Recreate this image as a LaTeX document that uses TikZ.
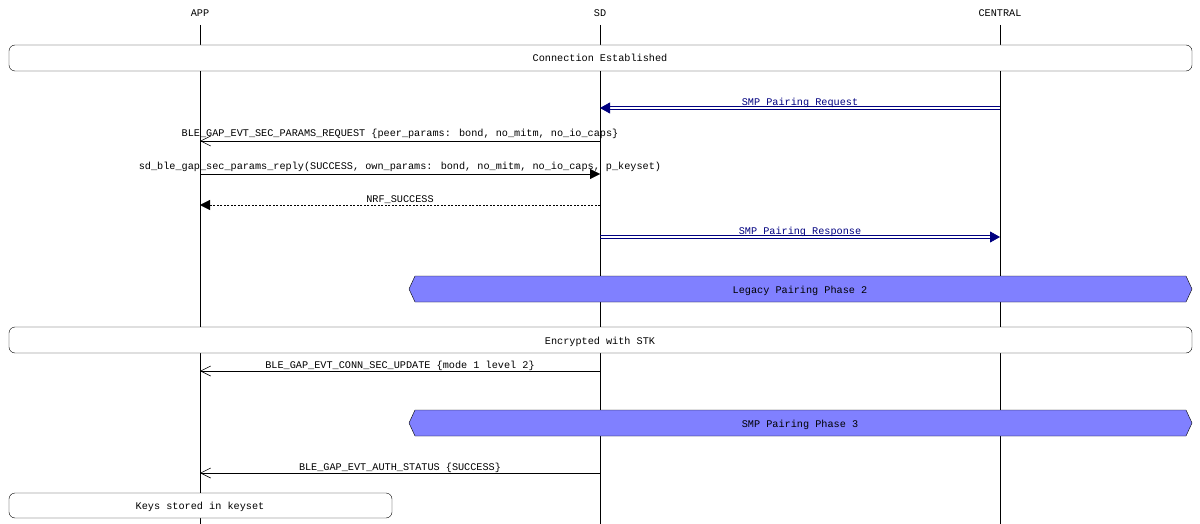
\documentclass[tikz,border=0pt]{standalone}
\usepackage{fontspec}
\setmainfont{Liberation Mono}
\usetikzlibrary{arrows.meta}
\begin{document}
\begin{tikzpicture}[x=1pt,y=-1pt,font=\fontsize{10.2}{12}\selectfont,
  lbl/.style={inner sep=0pt,anchor=base},
  boxr/.style={draw,rounded corners=6pt,fill=white},
  hexa/.style={draw,fill=hexfill},
  msg/.style={-{Triangle[length=10pt,width=10pt]}},
  omsg/.style={-{Straight Barb[length=10pt,width=10pt,line width=0.6pt]}},
  dline/.style={draw=navy,line width=0.8pt},
  dhead/.style={draw=navy,line width=0.8pt,-{Triangle[length=10pt,width=11pt,fill=navy]}}]
\definecolor{navy}{RGB}{0,0,128}
\definecolor{hexfill}{RGB}{128,128,255}
\useasboundingbox (0,0) rectangle (1200,524);
\node[lbl] (happ) at (200,17) {APP};
\node[lbl] (hsd) at (600,17) {SD};
\node[lbl] (hcen) at (1000,17) {CENTRAL};
\coordinate (a0) at (200,25); \coordinate (a1) at (200,524);
\coordinate (s0) at (600,25); \coordinate (s1) at (600,524);
\coordinate (c0) at (1000,25); \coordinate (c1) at (1000,524);
\draw (a0) -- (a1); \draw (s0) -- (s1); \draw (c0) -- (c1);
% boxes
\draw[boxr] (9,45) rectangle (1192,71);
\node[lbl] (t1) at (600,62) {Connection Established};
\draw[hexa] (409,289) -- (415,276) -- (1186,276) -- (1192,289) -- (1186,302) -- (415,302) -- cycle;
\node[lbl] (t2) at (800,293) {Legacy Pairing Phase 2};
\draw[boxr] (9,327) rectangle (1192,353);
\node[lbl] (t3) at (600,344) {Encrypted with STK};
\draw[hexa] (409,423) -- (415,410) -- (1186,410) -- (1192,423) -- (1186,436) -- (415,436) -- cycle;
\node[lbl] (t4) at (800,427) {SMP Pairing Phase 3};
\draw[boxr] (9,493) rectangle (392,518);
\node[lbl] (t5) at (200,509) {Keys stored in keyset};
% messages
\coordinate (m1a) at (1000,108); \coordinate (m1b) at (600,108);
\draw[dline] ([yshift=-1.5pt]m1a) -- ([yshift=-1.5pt,xshift=8pt]m1b);
\draw[dline] ([yshift=1.5pt]m1a) -- ([yshift=1.5pt,xshift=8pt]m1b);
\draw[dhead] ([xshift=9pt]m1b) -- (m1b);
\node[lbl,text=navy] (l1) at (800,106) {SMP Pairing Request};
\coordinate (m2a) at (600,141); \coordinate (m2b) at (200,141);
\draw[omsg] (m2a) -- (m2b);
\node[lbl] (l2) at (400,137) {BLE\_GAP\_EVT\_SEC\_PARAMS\_REQUEST \{peer\_params: bond, no\_mitm, no\_io\_caps\}};
\coordinate (m3a) at (200,174); \coordinate (m3b) at (600,174);
\draw[msg] (m3a) -- (m3b);
\node[lbl] (l3) at (400,170) {sd\_ble\_gap\_sec\_params\_reply(SUCCESS, own\_params: bond, no\_mitm, no\_io\_caps, p\_keyset)};
\coordinate (m4a) at (600,205); \coordinate (m4b) at (200,205);
\draw[msg,dash pattern=on 2pt off 1.5pt] (m4a) -- (m4b);
\node[lbl] (l4) at (400,202) {NRF\_SUCCESS};
\coordinate (m5a) at (600,237); \coordinate (m5b) at (1000,237);
\draw[dline] ([yshift=-1.5pt]m5a) -- ([yshift=-1.5pt,xshift=-8pt]m5b);
\draw[dline] ([yshift=1.5pt]m5a) -- ([yshift=1.5pt,xshift=-8pt]m5b);
\draw[dhead] ([xshift=-9pt]m5b) -- (m5b);
\node[lbl,text=navy] (l5) at (800,234) {SMP Pairing Response};
\coordinate (m6a) at (600,371); \coordinate (m6b) at (200,371);
\draw[omsg] (m6a) -- (m6b);
\node[lbl] (l6) at (400,368) {BLE\_GAP\_EVT\_CONN\_SEC\_UPDATE \{mode 1 level 2\}};
\coordinate (m7a) at (600,473); \coordinate (m7b) at (200,473);
\draw[omsg] (m7a) -- (m7b);
\node[lbl] (l7) at (400,470) {BLE\_GAP\_EVT\_AUTH\_STATUS \{SUCCESS\}};
\end{tikzpicture}
\end{document}
